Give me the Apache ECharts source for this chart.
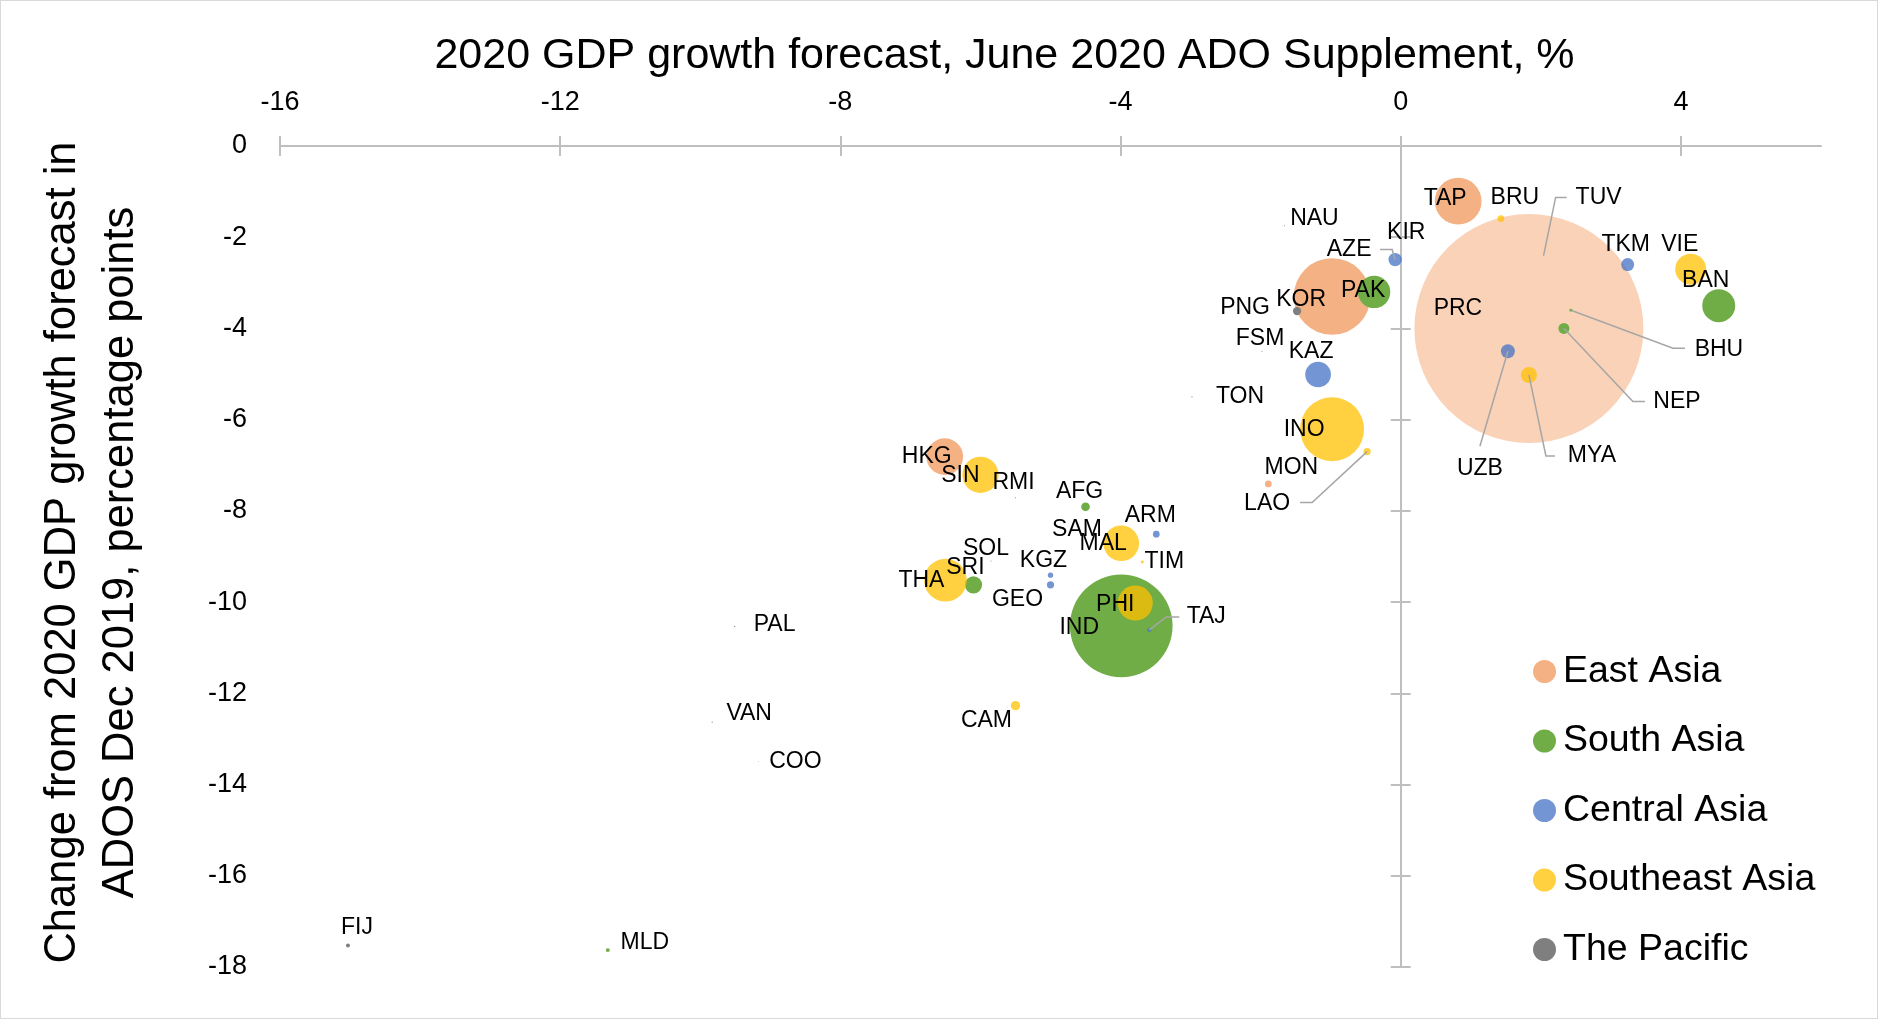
<!DOCTYPE html>
<html>
<head>
<meta charset="utf-8">
<script src="https://cdn.jsdelivr.net/npm/echarts@6/dist/echarts.min.js"></script>
<style>
html,body{margin:0;padding:0;background:#fff;}
#chart{width:1878px;height:1019px;box-sizing:border-box;border:1px solid #d9d9d9;}
</style>
</head>
<body>
<div id="chart"></div>
<script>
// ---- data: [code, 2020 GDP growth forecast (June 2020), change vs Dec 2019, relative GDP weight]
const regionNames = ['East Asia', 'South Asia', 'Central Asia', 'Southeast Asia', 'The Pacific'];

const eastAsia = [
  ['PRC', 1.83, -4.00, 100],
  ['KOR', -0.98, -3.30, 11.2],
  ['TAP', 0.82, -1.21, 4.16],
  ['HKG', -6.51, -6.81, 2.57],
  ['MON', -1.89, -7.41, 0.086]
];
const southAsia = [
  ['IND', -3.99, -10.52, 20.1],
  ['BAN', 4.54, -3.50, 2.08],
  ['PAK', -0.38, -3.20, 1.99],
  ['SRI', -6.10, -9.62, 0.57],
  ['NEP', 2.33, -4.00, 0.23],
  ['AFG', -4.50, -7.91, 0.144],
  ['BHU', 2.43, -3.60, 0.017],
  ['MLD', -11.32, -17.63, 0.03]
];
const centralAsia = [
  ['KAZ', -1.18, -5.01, 1.26],
  ['UZB', 1.53, -4.50, 0.37],
  ['AZE', -0.08, -2.49, 0.34],
  ['TKM', 3.24, -2.60, 0.32],
  ['GEO', -5.00, -9.62, 0.10],
  ['ARM', -3.49, -8.51, 0.086],
  ['KGZ', -5.00, -9.41, 0.054],
  ['TAJ', -3.59, -10.61, 0.03]
];
const southeastAsia = [
  ['INO', -0.98, -6.21, 7.81],
  ['THA', -6.50, -9.52, 3.48],
  ['SIN', -6.00, -7.21, 2.51],
  ['MAL', -3.99, -8.71, 2.43],
  ['PHI', -3.79, -10.02, 2.34],
  ['VIE', 4.14, -2.70, 1.83],
  ['MYA', 1.83, -5.02, 0.49],
  ['CAM', -5.50, -12.27, 0.165],
  ['LAO', -0.48, -6.70, 0.10],
  ['BRU', 1.43, -1.59, 0.086],
  ['TIM', -3.69, -9.12, 0.017]
];
const pacific = [
  ['PNG', -1.48, -3.62, 0.13],
  ['FIJ', -15.03, -17.53, 0.03],
  ['SOL', -5.85, -9.10, 0.002],
  ['VAN', -9.83, -12.63, 0.003],
  ['SAM', -4.55, -8.65, 0.002],
  ['TON', -2.98, -5.50, 0.003],
  ['FSM', -1.98, -4.50, 0.002],
  ['PAL', -9.51, -10.53, 0.003],
  ['RMI', -5.50, -7.71, 0.002],
  ['KIR', -0.05, -1.96, 0.002],
  ['NAU', -1.66, -1.75, 0.002],
  ['TUV', 2.04, -2.40, 0.001],
  ['COO', -9.17, -13.49, 0.001]
];

const xTicks = [-16, -12, -8, -4, 0, 4];
const yTicks = [0, -2, -4, -6, -8, -10, -12, -14, -16, -18];

const xTitle = '2020 GDP growth forecast, June 2020 ADO Supplement, %';
const yTitle = 'Change from 2020 GDP growth forecast in\nADOS Dec 2019, percentage points';

// ---- styles (kept apart from the data)
const regionData = [eastAsia, southAsia, centralAsia, southeastAsia, pacific];
const regionColors = ['#ED7D31', '#70AD47', '#4472C4', '#FFC000', '#7F7F7F'];
const regionOpacity = [0.6, 1, 0.75, 0.75, 1];
const FONT = 'Liberation Sans';

// label centre offsets from the point centre, in pixels
const labelOffsets = {
  PRC: [-71, -20], KOR: [-31, 3], TAP: [-13, -3], HKG: [-18, 0], MON: [23, -16],
  IND: [-42, 2], BAN: [-13, -25], PAK: [-11, -1], SRI: [-8, -17], NEP: [113, 73],
  AFG: [-6, -15], BHU: [148, 39], MLD: [37, -7],
  KAZ: [-7, -23], UZB: [-28, 117], AZE: [-46, -10], TKM: [-2, -20], GEO: [-33, 15],
  ARM: [-6, -18], KGZ: [-7, -15], TAJ: [57, -13],
  INO: [-28, 0], THA: [-24, 0], SIN: [-20, 1], MAL: [-18, 0], PHI: [-20, 2],
  VIE: [-11, -24], MYA: [63, 81], CAM: [-29, 15], LAO: [-100, 52], BRU: [14, -21], TIM: [22, 0],
  PNG: [-52, -3], FIJ: [9, -18], SOL: [-5, -12], VAN: [37, -8], SAM: [-5, -11], TON: [48, 0],
  FSM: [-2, -13], PAL: [40, -2], RMI: [-2, -15], KIR: [9, -3], NAU: [30, -7], TUV: [55, -58],
  COO: [37, 0]
};
// leader line vertices relative to the point centre, in pixels
const leaders = {
  TUV: [[0, 0], [12, -58], [23, -58]],
  AZE: [[0, 0], [-3, -10], [-15, -10]],
  BHU: [[0, 0], [102, 38], [114, 38]],
  NEP: [[0, 0], [69, 73], [81, 73]],
  MYA: [[0, 0], [17, 81], [26, 81]],
  UZB: [[0, 0], [-28, 95]],
  LAO: [[0, 0], [-55, 51], [-67, 51]],
  TAJ: [[0, 0], [17, -13], [30, -13]]
};

const allPoints = [];
regionData.forEach(arr => arr.forEach(d => allPoints.push([d[1], d[2], d[0]])));

const series = regionNames.map((name, i) => ({
  name: name,
  type: 'scatter',
  xAxisIndex: 0,
  yAxisIndex: 0,
  data: regionData[i].map(d => {
    const item = { name: d[0], value: [d[1], d[2], d[3]] };
    if (d[0] === 'PRC') item.itemStyle = { opacity: 0.35 };
    return item;
  }),
  symbol: 'circle',
  symbolSize: v => 22.9 * Math.sqrt(v[2]),
  itemStyle: { color: regionColors[i], opacity: regionOpacity[i] },
  emphasis: { disabled: true },
  z: 2
}));

series.push({
  type: 'custom',
  name: 'labels',
  coordinateSystem: 'cartesian2d',
  xAxisIndex: 0,
  yAxisIndex: 0,
  silent: true,
  z: 10,
  encode: { x: 0, y: 1 },
  data: allPoints.map(p => [p[0], p[1]]),
  renderItem: function (params, api) {
    const code = allPoints[params.dataIndex][2];
    const p = api.coord([api.value(0), api.value(1)]);
    const off = labelOffsets[code] || [0, -15];
    const children = [];
    const ld = leaders[code];
    if (ld) {
      children.push({
        type: 'polyline',
        shape: { points: ld.map(q => [p[0] + q[0], p[1] + q[1]]) },
        style: { stroke: '#a6a6a6', lineWidth: 1.5, fill: null }
      });
    }
    children.push({
      type: 'text',
      x: p[0] + off[0],
      y: p[1] + off[1],
      style: {
        text: code, fill: '#000', fontSize: 23, fontFamily: FONT,
        align: 'center', verticalAlign: 'middle'
      }
    });
    return { type: 'group', children: children };
  }
});

const axisColor = '#bfbfbf';
const chart = echarts.init(document.getElementById('chart'));
chart.setOption({
  backgroundColor: '#fff',
  animation: false,
  textStyle: { fontFamily: FONT },
  grid: { left: 279, top: 145, width: 1541, height: 821, containLabel: false },
  legend: {
    data: regionNames,
    orient: 'vertical',
    left: 1527,
    top: 645.5,
    icon: 'circle',
    itemWidth: 23,
    itemHeight: 23,
    itemGap: 29.5,
    selectedMode: false,
    textStyle: { fontSize: 37.5, lineHeight: 40, color: '#000', fontFamily: FONT, padding: [0, 0, 0, 2] }
  },
  xAxis: [
    {
      type: 'value', position: 'top', min: -16, max: 6, interval: 4,
      axisLine: { show: true, onZero: false, lineStyle: { color: axisColor, width: 2 } },
      axisTick: { show: true, length: 10, inside: false, customValues: xTicks, lineStyle: { color: axisColor, width: 2 } },
      axisLabel: { fontSize: 27, color: '#000', fontFamily: FONT, margin: 30, customValues: xTicks },
      splitLine: { show: false },
      name: xTitle, nameLocation: 'middle', nameGap: 68,
      nameTextStyle: { fontSize: 43, color: '#000', fontFamily: FONT, padding: [0, 92, 0, 0] }
    },
    {
      type: 'value', position: 'top', min: -16, max: 6, interval: 4,
      axisLine: { show: false, onZero: false },
      axisTick: { show: true, length: 10, inside: true, customValues: xTicks, lineStyle: { color: axisColor, width: 2 } },
      axisLabel: { show: false },
      splitLine: { show: false }
    }
  ],
  yAxis: [
    {
      type: 'value', position: 'left', min: -18, max: 0, interval: 2,
      axisLine: { show: false, onZero: false },
      axisTick: { show: false },
      axisLabel: { fontSize: 27, color: '#000', fontFamily: FONT, margin: 33, customValues: yTicks },
      splitLine: { show: false },
      name: yTitle, nameLocation: 'middle', nameRotate: 90, nameGap: 130,
      nameTextStyle: { fontSize: 43.5, lineHeight: 58, color: '#000', fontFamily: FONT, align: 'center', padding: [0, 0, 0, 8] }
    },
    {
      type: 'value', min: -18, max: 0, interval: 2,
      axisLine: { show: true, onZero: true, onZeroAxisIndex: 0, lineStyle: { color: axisColor, width: 2 } },
      axisTick: { show: true, length: 10, inside: false, lineStyle: { color: axisColor, width: 2 } },
      axisLabel: { show: false },
      splitLine: { show: false }
    },
    {
      type: 'value', min: -18, max: 0, interval: 2,
      axisLine: { show: false, onZero: true, onZeroAxisIndex: 1 },
      axisTick: { show: true, length: 10, inside: true, lineStyle: { color: axisColor, width: 2 } },
      axisLabel: { show: false },
      splitLine: { show: false }
    }
  ],
  series: series
});
</script>
</body>
</html>
